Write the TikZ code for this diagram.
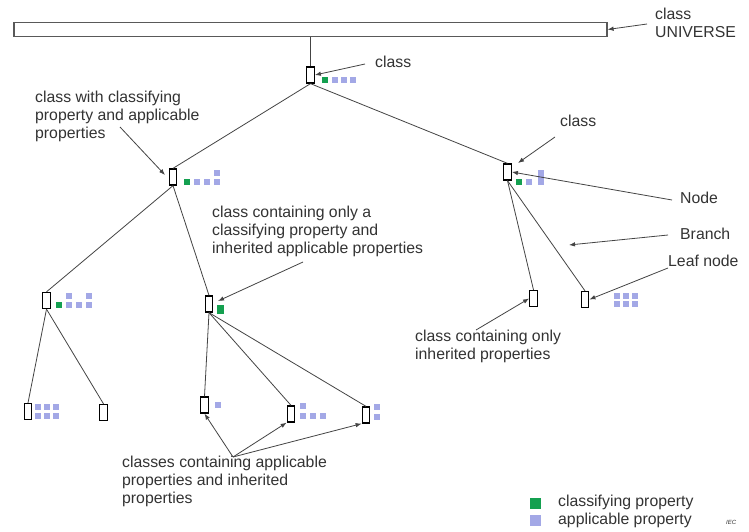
\documentclass[tikz,border=0pt]{standalone}
\usepackage{fontspec}
\setmainfont{Liberation Sans}
\usetikzlibrary{arrows.meta}
\definecolor{clsgreen}{HTML}{14A050}
\definecolor{applav}{HTML}{A3A8E6}
\definecolor{linegray}{HTML}{444444}
\definecolor{txtgray}{HTML}{333333}
\begin{document}
\begin{tikzpicture}[x=1pt,y=-1pt,
  cls/.style={draw=black, line width=1.3pt, fill=white, minimum width=7.5pt, minimum height=16pt, inner sep=0pt},
  gsq/.style={fill=clsgreen, minimum size=6pt, inner sep=0pt},
  lsq/.style={fill=applav, minimum size=6pt, inner sep=0pt},
  edge/.style={draw=linegray, line width=0.8pt},
  arr/.style={draw=linegray, line width=0.8pt, -{Latex[length=6pt,width=4.5pt]}},
  lbl/.style={font=\fontsize{15.8}{18}\selectfont, text=txtgray, inner sep=0pt, align=left, anchor=north west}]
\useasboundingbox[fill=white] (0,0) rectangle (749,532);

% universe bar
\node[draw=gray!70!black, line width=1.2pt, fill=white, minimum width=593pt, minimum height=14pt, inner sep=0pt] (univ) at (310.5,29.5) {};

% class nodes
\node[cls] (root) at (310.5,75) {};
\node[cls] (L) at (173,177) {};
\node[cls] (R) at (507.5,172) {};
\node[cls] (LL) at (46.5,300.5) {};
\node[cls] (LM) at (209,304) {};
\node[cls] (LLa) at (28,411.5) {};
\node[cls] (LLb) at (103.5,412.5) {};
\node[cls] (B1) at (204.5,405) {};
\node[cls] (B2) at (291,414) {};
\node[cls] (B3) at (366,415) {};
\node[cls] (RL1) at (533.5,298.5) {};
\node[cls] (RL2) at (585,299.5) {};

% branches
\draw[edge] (univ.south -| root.north) -- (root.north);
\draw[edge] (root.south) -- (L.north);
\draw[edge] (root.south) -- (R.north);
\draw[edge] (L.south) -- (LL.north);
\draw[edge] (L.south) -- (LM.north);
\draw[edge] (LL.south) -- (LLa.north);
\draw[edge] (LL.south) -- (LLb.north);
\draw[edge] (LM.south) -- (B1.north);
\draw[edge] (LM.south) -- (B2.north);
\draw[edge] (LM.south) -- (B3.north);
\draw[edge] (R.south) -- (RL1.north);
\draw[edge] (R.south) -- (RL2.north);

% property squares
\node[gsq] (rg) at (325,80) {};
\node[lsq] (ra1) at (335,80) {};
\node[lsq] (ra2) at (344,80) {};
\node[lsq] (ra3) at (353,80) {};

\node[gsq] (lg) at (187,182) {};
\node[lsq] (la1) at (197,182) {};
\node[lsq] (la2) at (207,182) {};
\node[lsq] (la3) at (217,182) {};
\node[lsq] (la4) at (217,173) {};

\node[gsq] (rrg) at (519,182) {};
\node[lsq] (rra1) at (529,182) {};
\node[lsq, minimum height=15pt] (rra2) at (541,177.5) {};

\node[gsq] (llg) at (59,305) {};
\node[lsq] (lla1) at (69,305) {};
\node[lsq] (lla2) at (79,305) {};
\node[lsq] (lla3) at (89,305) {};
\node[lsq] (lla4) at (69,296) {};
\node[lsq] (lla5) at (89,296) {};

\node[gsq, minimum width=7pt, minimum height=9pt] (lmg) at (220,309) {};

\node[lsq] (lAa1) at (38,407) {};
\node[lsq] (lAa2) at (47,407) {};
\node[lsq] (lAa3) at (56,407) {};
\node[lsq] (lAa4) at (38,416) {};
\node[lsq] (lAa5) at (47,416) {};
\node[lsq] (lAa6) at (56,416) {};

\node[lsq] (b1a) at (218,405) {};

\node[lsq] (b2a1) at (303,406) {};
\node[lsq] (b2a2) at (303,416) {};
\node[lsq] (b2a3) at (313,416) {};
\node[lsq] (b2a4) at (323,416) {};

\node[lsq] (b3a1) at (377,407) {};
\node[lsq] (b3a2) at (377,417) {};

\node[lsq] (q1) at (617,296) {};
\node[lsq] (q2) at (626,296) {};
\node[lsq] (q3) at (635,296) {};
\node[lsq] (q4) at (617,304) {};
\node[lsq] (q5) at (626,304) {};
\node[lsq] (q6) at (635,304) {};

% labels
\node[lbl] (tU) at (655,8) {class\\UNIVERSE};
\node[lbl] (tRoot) at (375,56) {class};
\node[lbl] (tL) at (35,91) {class with classifying\\property and applicable\\properties};
\node[lbl] (tR) at (560,115) {class};
\node[lbl] (tM) at (212,206) {class containing only a\\classifying property and\\inherited applicable properties};
\node[lbl] (tNode) at (680,192) {Node};
\node[lbl] (tBranch) at (680,228) {Branch};
\node[lbl] (tLeaf) at (668,255) {Leaf node};
\node[lbl] (tInh) at (415,330) {class containing only\\inherited properties};
\node[lbl] (tBot) at (122,456) {classes containing applicable\\properties and inherited\\properties};

% arrows
\coordinate (sU) at (647,24);
\coordinate (sRoot) at (365,64);
\coordinate (sL) at (120,127);
\coordinate (tipL) at (165,175);
\coordinate (sM) at (303,262);
\coordinate (tipM) at (218,301);
\coordinate (sR) at (555,137);
\coordinate (tipR) at (518,163);
\coordinate (sNode) at (672,200);
\coordinate (sBranch) at (668,235);
\coordinate (tipBranch) at (569,245);
\coordinate (sLeaf) at (668,268);
\coordinate (sInh) at (476,330);
\coordinate (sBot) at (233,457);

\draw[arr] (sU) -- (univ.east);
\draw[arr] (sRoot) -- (root.east);
\draw[arr] (sL) -- (tipL);
\draw[arr] (sM) -- (tipM);
\draw[arr] (sR) -- (tipR);
\draw[arr] (sNode) -- (R.east);
\draw[arr] (sBranch) -- (tipBranch);
\draw[arr] (sLeaf) -- (RL2.east);
\draw[arr] (sInh) -- (RL1.west);
\draw[arr] (sBot) -- (B1.south);
\draw[arr] (sBot) -- (B2.south west);
\draw[arr] (sBot) -- (B3.south west);

% legend
\node[fill=clsgreen, minimum size=11pt, inner sep=0pt] (legG) at (535,503) {};
\node[fill=applav, minimum size=11pt, inner sep=0pt] (legA) at (535,520) {};
\node[lbl] (legGt) at (558,495) {classifying property};
\node[lbl] (legAt) at (558,513) {applicable property};
\node[font=\fontsize{6}{7}\selectfont\itshape, text=txtgray, inner sep=0pt, anchor=west] (iec) at (726,522) {IEC};
\end{tikzpicture}
\end{document}
